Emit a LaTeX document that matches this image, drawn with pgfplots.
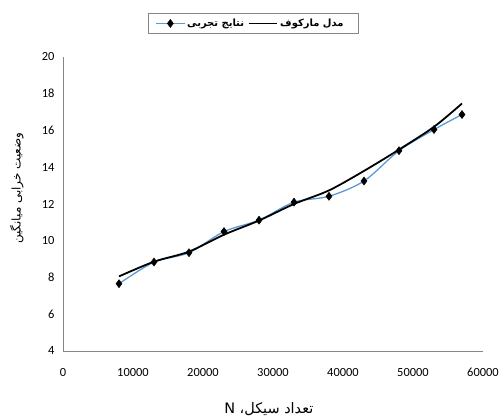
\documentclass[border=0pt]{standalone}
\usepackage{fontspec}
\setmainfont{Carlito}
\newfontfamily\arabicfont[Script=Arabic]{DejaVu Sans}
\TeXXeTstate=1
\usepackage{pgfplots}
\pgfplotsset{compat=1.18}
\definecolor{exblue}{RGB}{91,155,213}
\definecolor{axgray}{RGB}{134,134,134}
\pgfplotsset{blackleg/.style={legend image code/.code={\draw[black, line width=1.8bp] (0cm,0cm) -- (0.8cm,0cm);}}}
\begin{document}
\begin{tikzpicture}
\useasboundingbox (0,0) rectangle (500bp,419bp);
\begin{axis}[
  at={(63bp,68bp)}, anchor=south west,
  scale only axis, width=420bp, height=294bp,
  xmin=0, xmax=60000, ymin=4, ymax=20,
  xtick={0,10000,...,60000}, ytick={4,6,...,20},
  scaled x ticks=false,
  /pgf/number format/.cd, set thousands separator={}, assume math mode=true, /pgfplots/.cd,
  axis x line*=bottom, axis y line*=left,
  axis line style={-, draw=axgray, line width=0.9bp},
  major tick length=0pt,
  tick label style={font=\fontsize{12.5}{14}\selectfont},
  xticklabel style={yshift=-14bp},
  yticklabel style={xshift=-5bp},
  xlabel={\arabicfont\fontsize{14.5}{16}\selectfont\beginR تعداد سیکل، N\endR},
  xlabel style={at={(axis description cs:0.49,-0.197)}, anchor=center},
  ylabel={\arabicfont\fontsize{12}{14}\selectfont\beginR وضعیت خرابی میانگین\endR},
  ylabel style={at={(axis description cs:-0.11,0.554)}, anchor=center},
  legend columns=3,
  legend style={at={(axis description cs:0.4536,1.114)}, anchor=center,
    draw=axgray, line width=0.6bp, font=\arabicfont\bfseries\fontsize{10}{12}\selectfont,
    /tikz/every even column/.append style={column sep=2bp},
    inner xsep=7bp, inner ysep=3.5bp},
  legend cell align=left,
  legend image code/.code={\draw[mark repeat=2,mark phase=2,#1] plot coordinates {(0cm,0cm)(0.5cm,0cm)(1.0cm,0cm)};},
]
\addplot[exblue, line width=1.3bp, smooth, tension=0.5, mark=diamond*, mark size=4bp,
  mark options={fill=black, draw=black, line width=0.5bp}]
  coordinates {(8000,7.66) (13000,8.84) (18000,9.35) (23000,10.5) (28000,11.12) (33000,12.1) (38000,12.42) (43000,13.25) (48000,14.9) (53000,16.05) (57000,16.87)};
\addlegendentry{\beginR نتایج تجربی\endR}
\addplot[black, line width=1.8bp, smooth, tension=0.5]
  coordinates {(8000,8.06) (13000,8.86) (18000,9.41) (23000,10.33) (28000,11.1) (33000,12.0) (38000,12.74) (43000,13.8) (48000,14.96) (53000,16.2) (57000,17.47)};
\addlegendimage{empty legend}
\addlegendentry{\beginR مدل مارکوف\endR}
\addlegendimage{blackleg}
\addlegendentry{}
\end{axis}
\end{tikzpicture}
\end{document}
